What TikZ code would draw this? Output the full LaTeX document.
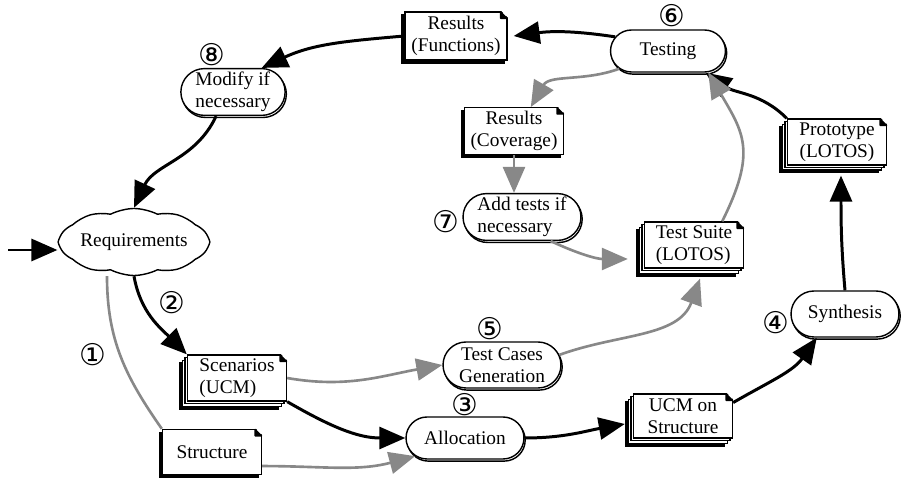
\documentclass[tikz,border=0pt]{standalone}
\usepackage{fontspec}
\setmainfont{Liberation Serif}
\newfontfamily\circfont{DejaVu Sans}
\usetikzlibrary{shapes.misc, shapes.symbols, arrows.meta, positioning, shadows, calc}
\definecolor{flowgray}{RGB}{136,136,136}
\tikzset{
  procbox/.style={
    draw, rounded rectangle, fill=white, line width=0.8pt,
    minimum width=2.5cm, minimum height=0.86cm, inner sep=2pt,
    font=\fontsize{11}{12.5}\selectfont, align=left,
    general shadow={shadow xshift=0.7pt, shadow yshift=-1.2pt,
      fill=white, draw=black, line width=0.8pt}
  },
  docbox/.style={
    draw, rectangle, fill=white, line width=0.8pt,
    minimum width=1.98cm, minimum height=0.9cm, inner sep=2pt,
    font=\fontsize{11}{12.5}\selectfont, align=center,
    general shadow={shadow xshift=-1.8pt, shadow yshift=-1.8pt,
      fill=black, draw=black}
  },
  stackbox/.style={
    draw, rectangle, fill=white, line width=0.8pt,
    minimum width=1.98cm, minimum height=0.88cm, inner sep=2pt,
    font=\fontsize{11}{12.5}\selectfont, align=center,
    general shadow={shadow xshift=-4.5pt, shadow yshift=-4.5pt,
      fill=black, draw=black},
    general shadow={shadow xshift=-3pt, shadow yshift=-3pt,
      fill=white, draw=black, line width=0.8pt},
    general shadow={shadow xshift=-1.5pt, shadow yshift=-1.5pt,
      fill=white, draw=black, line width=0.8pt}
  },
  cloudbox/.style={
    draw, cloud, cloud puffs=10, cloud puff arc=55, aspect=2.6,
    fill=white, line width=0.8pt, minimum width=2.74cm,
    minimum height=1.1cm, inner sep=0pt,
    font=\fontsize{11}{12.5}\selectfont
  },
  numlabel/.style={font=\circfont\fontsize{17}{17}\selectfont, inner sep=0pt},
  flowarrow/.style={-{Triangle[length=5.2mm, width=4.4mm]}, line width=1.7pt},
  testarrow/.style={flowarrow, draw=flowgray, line width=1.5pt},
  testline/.style={draw=flowgray, line width=1.5pt},
}

\begin{document}
\begin{tikzpicture}[x=0.02cm, y=0.02cm]
  \useasboundingbox (0,0) rectangle (904,-479);

  %%% Requirements and the left half %%%
  \node[cloudbox] (req) at (134,-242) {Requirements};
  \coordinate (entry) at (8,-250);
  \node[procbox, minimum width=2.04cm] (modify) at (233,-92)
    {Modify if\\necessary};
  \node[docbox, minimum width=2.04cm, minimum height=0.96cm] (resfun) at (456,-36)
    {Results\\(Functions)};
  \node[stackbox, align=left] (scen) at (237,-378) {Scenarios\\(UCM)};
  \node[docbox] (struct) at (212,-452) {Structure};

  %%% Process steps %%%
  \node[procbox, minimum height=0.84cm] (alloc) at (465,-438) {Allocation};
  \node[procbox, align=center, minimum height=0.92cm] (tcg) at (502,-365)
    {Test Cases\\Generation};
  \node[stackbox] (ucmstr) at (683,-416) {UCM on\\Structure};
  \node[procbox, minimum width=2.3cm, minimum height=0.92cm] (synth) at (845,-314)
    {Synthesis};
  \node[stackbox] (proto) at (837,-142) {Prototype\\(LOTOS)};
  \node[procbox, minimum width=2.44cm, minimum height=0.84cm] (testing) at (668,-51)
    {Testing};
  \node[docbox] (rescov) at (514,-131) {Results\\(Coverage)};
  \node[procbox, minimum height=0.92cm] (addtests) at (522,-217)
    {Add tests if\\necessary};
  \node[stackbox, align=left] (suite) at (694,-245) {Test Suite\\(LOTOS)};

  %%% Folded corners %%%
  \foreach \n in {resfun, rescov, struct, scen, suite, proto, ucmstr} {
    \fill[white] ($(\n.north east)+(-4pt,0.6pt)$) -- ($(\n.north east)+(0.6pt,0.6pt)$)
      -- ($(\n.north east)+(0.6pt,-4pt)$) -- cycle;
    \draw[line width=0.8pt, fill=black, line join=round]
      ($(\n.north east)+(-4pt,-0.4pt)$) -- ($(\n.north east)+(-0.4pt,-4pt)$)
      -- ($(\n.north east)+(-4pt,-4pt)$) -- cycle;
  }

  %%% Step numbers %%%
  \node[numlabel] (n1) at (93,-355) {①};
  \node[numlabel] (n2) at (172,-303) {②};
  \node[numlabel, above=0pt of alloc] (n3) {③};
  \node[numlabel, left=0.02cm of synth, yshift=-0.18cm] (n4) {④};
  \node[numlabel, above=0.02cm of tcg, xshift=-0.24cm] (n5) {⑤};
  \node[numlabel, above=0.04cm of testing, xshift=0.08cm] (n6) {⑥};
  \node[numlabel, left=0.06cm of addtests, yshift=-0.1cm] (n7) {⑦};
  \node[numlabel, above=0.04cm of modify, xshift=-0.42cm] (n8) {⑧};

  %%% Main cycle (black) %%%
  \draw[flowarrow] (entry) -- (entry -| req.west);
  \draw[flowarrow] (req.south) to[out=-80, in=135] (scen.north west);
  \draw[flowarrow] (scen.south east) to[out=-30, in=180] (alloc.west);
  \draw[flowarrow] (alloc.east) to[out=0, in=190] ($(ucmstr.west)+(-8,-8)$);
  \draw[flowarrow] (ucmstr.15) to[out=30, in=-125] (synth.220);
  \draw[flowarrow] (synth.north) to[out=95, in=-90] ($(proto.south)+(4,-10)$);
  \draw[flowarrow] (proto.north west) to[out=135, in=-35] (testing.-30);
  \draw[flowarrow] (testing.165) to[bend right=8] ($(resfun.east)+(6,0)$);
  \draw[flowarrow] (resfun.west) to[out=185, in=25] (modify.40);
  \draw[flowarrow] (modify.235) to[out=-115, in=65] (req.north);

  %%% Test branch (gray) %%%
  \draw[testline] ($(req.south)+(-27,0)$) to[out=-90, in=125] (struct.north west);
  \draw[testarrow] ([yshift=-8pt]struct.east) to[out=0, in=195] (alloc.200);
  \draw[testarrow] (scen.east) to[out=-10, in=190] (tcg.west);
  \draw[testarrow] (tcg.10) to[out=20, in=-110] ($(suite.south)+(6,-10)$);
  \draw[testarrow] (addtests.-40) to[out=-25, in=180] ($(suite.west)+(-16,-14)$);
  \draw[testarrow] (suite.40) .. controls +(35,70) and +(35,-60) .. (testing.-28);
  \draw[testarrow] (testing.200) to[out=200, in=60] (rescov.55);
  \draw[testarrow] (rescov.south) -- (rescov.south |- addtests.north);
\end{tikzpicture}
\end{document}
